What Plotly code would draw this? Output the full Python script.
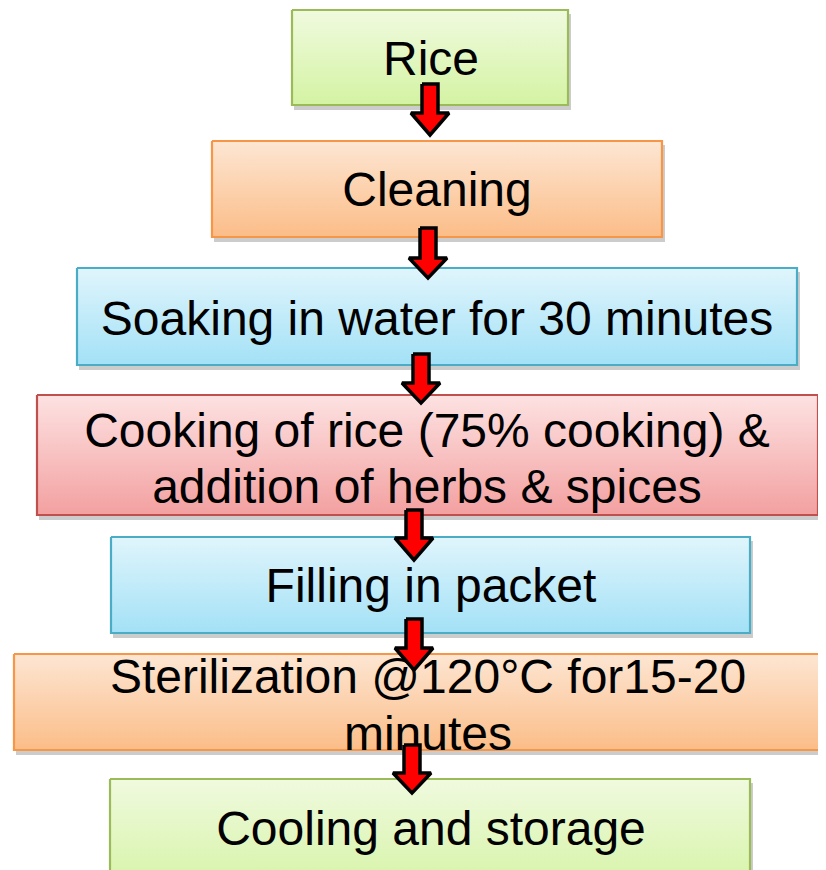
import plotly.graph_objects as go

# ---- content ----
step_lines = [
    ["Rice"],
    ["Cleaning"],
    ["Soaking in water for 30 minutes"],
    ["Cooking of rice (75% cooking) &", "addition of herbs & spices"],
    ["Filling in packet"],
    ["Sterilization @120°C for15-20", "minutes"],
    ["Cooling and storage"],
]
step_theme = ["green", "orange", "blue", "red", "blue", "orange", "green"]

# ---- layout (pixel geometry of the page) ----
W, H = 826, 870
OFF = 8  # page body margin
box_geom = [  # x0, x1, y0, y1
    (292, 568, 10, 105),
    (212, 662, 141, 237),
    (77, 797, 268, 365),
    (37, 818, 395, 515),
    (111, 750, 537, 633),
    (14, 845, 654, 750),
    (110, 750, 779, 895),
]
text_pos = [  # x, list of y centres
    (431, [63]),
    (437, [194]),
    (437, [323]),
    (427, [435, 491]),
    (431, [590]),
    (428, [681, 738]),
    (431, [833]),
]
arrow_geom = [  # cx, top, head start, tip
    (430, 84, 113, 135),
    (428, 228, 258, 278),
    (421, 354, 383, 403),
    (414, 510, 538, 560),
    (414, 619, 648, 670),
    (412, 745, 773, 793),
]
themes = {
    "green": ("#f0fadf", "#d4f3a3", "#9bbb59"),
    "orange": ("#fde6d3", "#fbbd88", "#f79646"),
    "blue": ("#e0f5fc", "#a3e1f6", "#4bacc6"),
    "red": ("#fde2e2", "#f3a0a0", "#c0504d"),
}

fig = go.Figure()

# shadows + boxes
for (x0, x1, y0, y1), th in zip(box_geom, step_theme):
    top, bot, edge = themes[th]
    fig.add_trace(go.Scatter(
        x=[x0 + 2, x1 + 3, x1 + 3, x0 + 2, x0 + 2],
        y=[y0 + 4, y0 + 4, y1 + 5, y1 + 5, y0 + 4],
        mode="lines", line=dict(width=0), fill="toself",
        fillcolor="rgba(0,0,0,0.2)", hoverinfo="skip", showlegend=False))
    fig.add_trace(go.Scatter(
        x=[x0, x1, x1, x0, x0], y=[y0, y0, y1, y1, y0],
        mode="lines", line=dict(color=edge, width=2.2), fill="toself",
        fillgradient=dict(type="vertical", start=y0, stop=y1,
                          colorscale=[[0, top], [1, bot]]),
        hoverinfo="skip", showlegend=False))

# texts
for lines, (tx, ys) in zip(step_lines, text_pos):
    fig.add_trace(go.Scatter(
        x=[tx] * len(lines), y=ys, text=lines, mode="text",
        textposition="middle center",
        textfont=dict(family="Liberation Sans, Arial", size=48, color="black"),
        hoverinfo="skip", showlegend=False))

# arrows
for cx, t, hs, tip in arrow_geom:
    sw, hw = 8, 19
    fig.add_trace(go.Scatter(
        x=[cx - sw, cx + sw, cx + sw, cx + hw, cx, cx - hw, cx - sw, cx - sw],
        y=[t, t, hs, hs, tip, hs, hs, t],
        mode="lines", line=dict(color="black", width=3.5), fill="toself",
        fillcolor="#ff0000", hoverinfo="skip", showlegend=False))

fig.update_layout(
    width=W, height=H, margin=dict(l=0, r=0, t=0, b=0),
    paper_bgcolor="white", plot_bgcolor="white",
    xaxis=dict(range=[OFF, W + OFF], visible=False, fixedrange=True),
    yaxis=dict(range=[H + OFF, OFF], visible=False, fixedrange=True),
    showlegend=False,
)
fig.write_html("out.html")
